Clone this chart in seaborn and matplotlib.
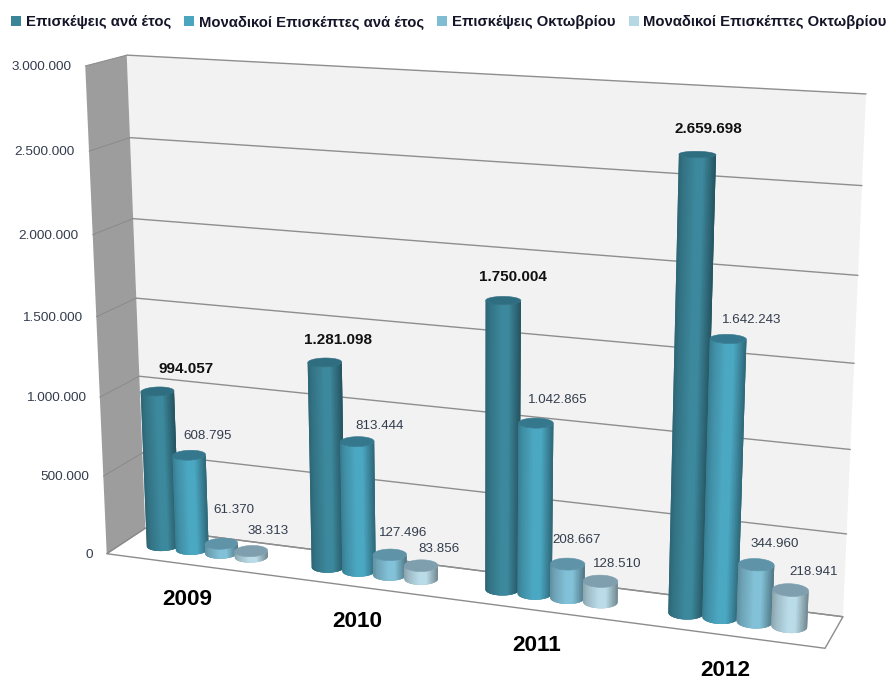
import numpy as np
import pandas as pd
import matplotlib
matplotlib.use("Agg")
import matplotlib.pyplot as plt
from matplotlib.collections import PolyCollection
from matplotlib.colors import to_rgb
from matplotlib.patches import Patch, Polygon
import seaborn as sns

# ---- data ----
YEARS = ["2009", "2010", "2011", "2012"]
SERIES = ["Επισκέψεις ανά έτος", "Μοναδικοί Επισκέπτες ανά έτος",
          "Επισκέψεις Οκτωβρίου", "Μοναδικοί Επισκέπτες Οκτωβρίου"]
VISITS_YEAR = [994057, 1281098, 1750004, 2659698]
UNIQUE_YEAR = [608795, 813444, 1042865, 1642243]
VISITS_OCT = [61370, 127496, 208667, 344960]
UNIQUE_OCT = [38313, 83856, 128510, 218941]
TICKS = [0, 500000, 1000000, 1500000, 2000000, 2500000, 3000000]

# ---- styling ----
COLORS = ["#3b8599", "#4aa5bf", "#7fbdd3", "#b6d8e4"]
TOP_COLORS = ["#2f6d80", "#35788e", "#5f93a8", "#7f9fae"]
INK = "#333d4d"
BAR_SPAN = 0.72
RADIUS_GROW = 1.0
DEPTH_RADIUS = 0.20

# Label anchors in figure pixels, series by series.
LABEL_XY = [
    [(186, 369), (338, 340), (513, 277), (708, 129)],
    [(208, 436), (380, 426), (558, 400), (752, 320)],
    [(234, 510), (403, 533), (577, 540), (775, 544)],
    [(268, 531), (439, 549), (617, 564), (814, 572)],
]

sns.set_theme(style="white")
plt.rcParams["font.family"] = ["Liberation Sans", "DejaVu Sans"]


def dotted(value):
    return f"{value:,}".replace(",", ".")


# ---- perspective camera: (x across, value, z depth) -> figure pixels ----
WORLD = np.array([[0, 0, 0], [0, 0, 1], [1, 0, 1], [1, 0, 0],
                  [0, 1, 1], [1, 1, 1], [0, 1, 0]], float)
SCREEN = np.array([[107, 553], [145, 529], [843, 616], [825, 649],
                   [127, 55], [866, 94], [85, 66]], float)


def fit_camera(world, screen):
    rows, rhs = [], []
    for (x, y, z), (u, v) in zip(world, screen):
        rows.append([x, y, z, 1, 0, 0, 0, 0, -u * x, -u * y, -u * z])
        rows.append([0, 0, 0, 0, x, y, z, 1, -v * x, -v * y, -v * z])
        rhs += [u, v]
    solution = np.linalg.lstsq(np.array(rows), np.array(rhs), rcond=None)[0]
    return np.append(solution, 1.0).reshape(3, 4)


CAMERA = fit_camera(WORLD, SCREEN)


def project(x, value, z):
    x, value, z = np.broadcast_arrays(np.asarray(x, float),
                                      np.asarray(value, float) / TICKS[-1],
                                      np.asarray(z, float))
    points = np.stack([x, value, z, np.ones_like(x)])
    u, v, w = np.tensordot(CAMERA, points, axes=1)
    return u / w, v / w


df = pd.DataFrame({
    "year": YEARS * 4,
    "series": np.repeat(SERIES, 4),
    "value": VISITS_YEAR + UNIQUE_YEAR + VISITS_OCT + UNIQUE_OCT,
})

fig = plt.figure(figsize=(8.89, 6.8), dpi=100, facecolor="white")

# Seaborn lays out the dodged bars; their geometry then feeds the cylinders.
layout_ax = fig.add_axes([0, 0, 1, 1])
sns.barplot(data=df, x="year", y="value", hue="series", hue_order=SERIES,
            order=YEARS, palette=COLORS, width=BAR_SPAN, gap=0, legend=False,
            errorbar=None, ax=layout_ax)
layout_bars = [[(b.get_x(), b.get_width(), b.get_height()) for b in c]
               for c in layout_ax.containers]
layout_ax.set_visible(False)

ax = fig.add_axes([0, 0, 1, 1])
ax.set_xlim(0, 889)
ax.set_ylim(680, 0)
ax.axis("off")


def face(x, value, z, **style):
    u, v = project(x, value, z)
    ax.add_patch(Polygon(np.column_stack([u, v]), closed=True, **style))


# Walls and floor.
top = TICKS[-1]
face([0, 1, 1, 0], [0, 0, top, top], [1, 1, 1, 1], facecolor="#f2f2f2", edgecolor="none", zorder=1)
face([0, 0, 0, 0], [0, top, top, 0], [0, 0, 1, 1], facecolor="#9d9d9d", edgecolor="none", zorder=1)
face([0, 1, 1, 0], [0, 0, 0, 0], [0, 0, 1, 1], facecolor="white", edgecolor="#8c8c8c", linewidth=1.0, zorder=1)

for tick in TICKS:
    u, v = project([0, 0], tick, [0, 1])
    ax.plot(u, v, color="#8a8a8a", lw=0.7, zorder=2)
    u2, v2 = project([0, 1], tick, [1, 1])
    ax.plot(u2, v2, color="#8e8e8e", lw=1.0, zorder=2)
    lx, ly = project(0, tick, 0)
    ax.text(lx - 14, ly + 1, dotted(tick), ha="right", va="center",
            fontsize=9.7, color=INK, zorder=6)

# Cylinder surface brightness across the silhouette (0 = left, 1 = right).
SHADE_POS = [0.0, 0.12, 0.45, 0.65, 0.88, 1.0]
SHADE_VAL = [0.76, 0.86, 1.02, 1.02, 0.76, 0.62]
BANDS = 24


def cylinder(x_mid, radius_x, value, base_rgb, top_rgb, zorder):
    def ring(theta, level):
        return project(x_mid + radius_x * np.cos(theta), level,
                       0.5 - DEPTH_RADIUS * np.sin(theta))

    # The visible wall runs between the outermost points of the base ring,
    # walked from the left edge to the right edge.
    probe = np.linspace(-np.pi / 4, 5 * np.pi / 4, 721)
    probe_u, _ = ring(probe, 0)
    arc = np.linspace(probe[probe_u.argmin()], probe[probe_u.argmax()], 361)
    bu, bv = ring(arc, 0)
    tu, tv = ring(arc, value)
    pos = (bu - bu[0]) / (bu[-1] - bu[0])
    base = np.array(base_rgb)

    def band(mask):
        return np.column_stack([np.r_[bu[mask], tu[mask][::-1]],
                                np.r_[bv[mask], tv[mask][::-1]]])

    # A single silhouette carries the outer antialiasing; overlapping bands
    # of even screen width paint the tones over it from left to right.
    layers = [band(np.ones_like(pos, dtype=bool))]
    tones = [np.clip(base * 0.8, 0, 1)]
    steps = np.linspace(0, 1, BANDS + 1)
    for i in range(BANDS):
        mask = (pos >= steps[i]) & (pos <= steps[min(i + 2, BANDS)])
        layers.append(band(mask))
        gain = np.interp(0.5 * (steps[i] + steps[i + 1]), SHADE_POS, SHADE_VAL)
        tones.append(np.clip(base * gain, 0, 1))
    body = PolyCollection(layers, facecolors=tones, edgecolors="none", zorder=zorder)
    body.set_snap(False)
    ax.add_collection(body)

    # Top cap.
    full = np.linspace(0, 2 * np.pi, 121)
    cu, cv = ring(full, value)
    cap = Polygon(np.column_stack([cu, cv]), closed=True, facecolor=top_rgb,
                  edgecolor=top_rgb, linewidth=0.4, zorder=zorder + 0.001)
    cap.set_snap(False)
    ax.add_patch(cap)


# One cylinder per seaborn bar, left to right so nearer neighbours overlap.
draw_order = 3.0
for year_index in range(len(YEARS)):
    for s, bars in enumerate(layout_bars):
        x0, width, height = bars[year_index]
        world_x = (x0 + width / 2 + 0.5) / len(YEARS)
        world_r = width / 2 / len(YEARS) * RADIUS_GROW
        cylinder(world_x, world_r, height, to_rgb(COLORS[s]), to_rgb(TOP_COLORS[s]), draw_order)
        draw_order += 0.01
        lx, ly = LABEL_XY[s][year_index]
        is_total = s == 0
        ax.text(lx, ly, dotted(int(height)), ha="center", va="center",
                fontsize=11.0 if is_total else 9.6,
                fontweight="bold" if is_total else "normal",
                color="#111111" if is_total else INK, zorder=7)

# Year captions under the front floor edge.
for i, year in enumerate(YEARS):
    u, v = project((i + 0.5) / len(YEARS), 0, 0)
    ax.text(u - 1, v + 35, year, ha="center", va="center", fontsize=16.2,
            fontweight="bold", color="black", zorder=7)

handles = [Patch(facecolor=c, edgecolor="none", label=s) for c, s in zip(COLORS, SERIES)]
ax.legend(handles=handles, ncol=4, frameon=False, loc="center left",
          bbox_to_anchor=(11 / 889, 1 - 22 / 680),
          prop={"weight": "bold", "size": 10.7}, labelcolor="#141428",
          handlelength=0.68, handleheight=0.68, handletextpad=0.3,
          columnspacing=0.9, borderpad=0, borderaxespad=0)

fig.savefig("out.png", dpi=100)
